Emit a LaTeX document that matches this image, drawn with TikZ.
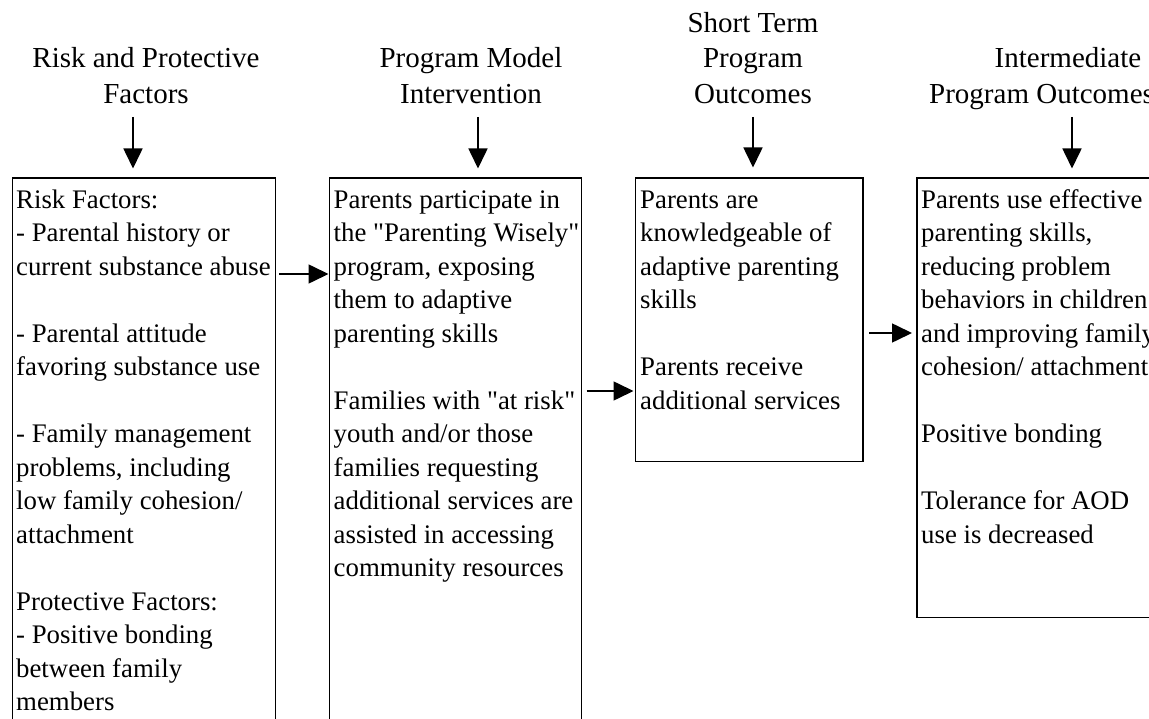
\documentclass[tikz,border=0pt]{standalone}
\usepackage{fontspec}
\setmainfont{Liberation Serif}
\usetikzlibrary{arrows.meta,calc}
\newcommand{\qq}{\textquotedbl}
\begin{document}
\begin{tikzpicture}[x=1pt,y=-1pt,
  boxstyle/.style={draw, line width=1.6pt, inner sep=0pt, anchor=north west},
  txt/.style={anchor=north west, inner sep=0pt, align=left, font=\fontsize{26.8}{33.5}\selectfont},
  ttl/.style={anchor=north, inner sep=0pt, align=center, font=\fontsize{29}{35.5}\selectfont},
  arr/.style={line width=1.6pt, -{Triangle[length=20pt,width=19pt]}}
]
\useasboundingbox (0,0) rectangle (1149,719);

% titles
\node[ttl] (t1) at (146,42.65) {\strut Risk and Protective\\Factors};
\node[ttl] (t2) at (471,42.65) {\strut Program Model\\Intervention};
\node[ttl] (t3) at (753,7.15) {\strut Short Term\\Program\\Outcomes};
\node[ttl] (t4) at (1068,42.65) {\strut Intermediate};
\node[ttl, anchor=north west] (t4b) at (929,78.15) {\strut Program Outcomes};

% boxes
\node[boxstyle, minimum width=263pt, minimum height=600pt] (b1) at (11.5,177.5) {};
\node[boxstyle, minimum width=252pt, minimum height=600pt] (b2) at (328.5,177.5) {};
\node[boxstyle, minimum width=227.5pt, minimum height=283pt] (b3) at (634.5,177.5) {};
\node[boxstyle, minimum width=260pt, minimum height=439pt] (b4) at (916,177.5) {};

% box texts
\node[txt] (x1) at (16,184.55) {\strut Risk Factors:\\
- Parental history or\\
current substance abuse\\
\mbox{}\\
- Parental attitude\\
favoring substance use\\
\mbox{}\\
- Family management\\
problems, including\\
low family cohesion/\\
attachment\\
\mbox{}\\
Protective Factors:\\
- Positive bonding\\
between family\\
members};

\node[txt] (x2) at (333.5,184.55) {\strut Parents participate in\\
the \qq Parenting Wisely\qq\\
program, exposing\\
them to adaptive\\
parenting skills\\
\mbox{}\\
Families with \qq at risk\qq\\
youth and/or those\\
families requesting\\
additional services are\\
assisted in accessing\\
community resources};

\node[txt] (x3) at (640,184.55) {\strut Parents are\\
knowledgeable of\\
adaptive parenting\\
skills\\
\mbox{}\\
Parents receive\\
additional services};

\node[txt] (x4) at (921,184.55) {\strut Parents use effective\\
parenting skills,\\
reducing problem\\
behaviors in children\\
and improving family\\
cohesion/ attachment\\
\mbox{}\\
Positive bonding\\
\mbox{}\\
Tolerance for AOD\\
use is decreased};

% vertical arrows
\coordinate (v1) at (133,117);
\coordinate (v2) at (478,117);
\coordinate (v3) at (753,117);
\coordinate (v4) at (1072,117);
\draw[arr, shorten >=9pt] (v1) -- (v1 |- b1.north);
\draw[arr, shorten >=9pt] (v2) -- (v2 |- b2.north);
\draw[arr, shorten >=10pt] (v3) -- (v3 |- b3.north);
\draw[arr, shorten >=9pt] (v4) -- (v4 |- b4.north);

% horizontal arrows
\coordinate (h1) at (0,274);
\coordinate (h2) at (0,391);
\coordinate (h3) at (0,333);
\draw[arr, shorten <=3pt] (b1.east |- h1) -- (b2.west |- h1);
\draw[arr, shorten <=4.5pt, shorten >=1pt] (b2.east |- h2) -- (b3.west |- h2);
\draw[arr, shorten <=5.5pt, shorten >=4pt] (b3.east |- h3) -- (b4.west |- h3);
\end{tikzpicture}
\end{document}
